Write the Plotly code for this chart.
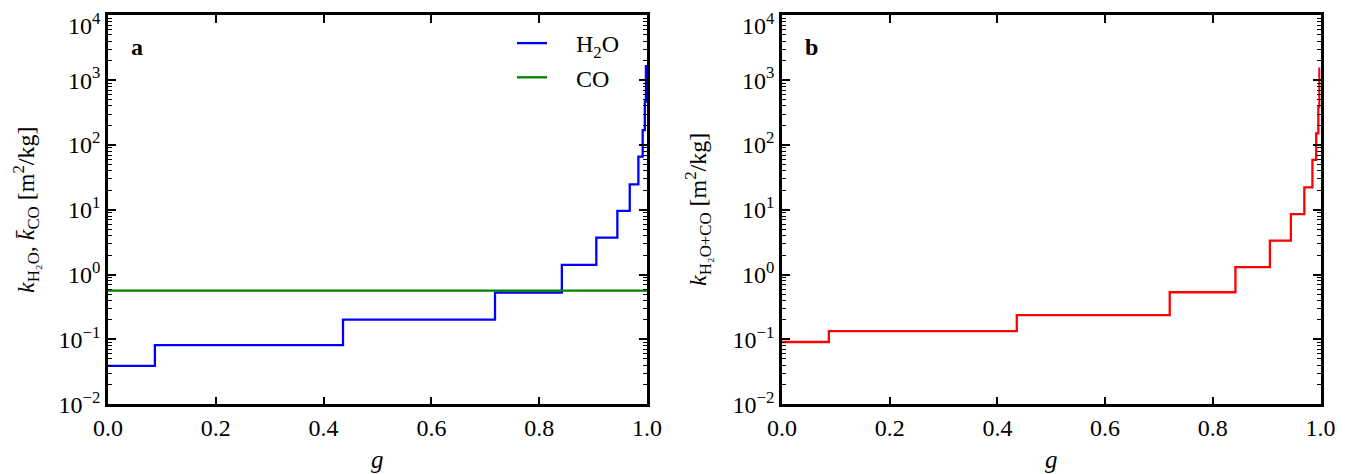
import plotly.graph_objects as go
from plotly.subplots import make_subplots

# ── data ─────────────────────────────────────────────────────────────────────
g_edges_h2o = [0.0, 0.087, 0.436, 0.718, 0.842, 0.906, 0.945, 0.968, 0.984,
               0.992, 0.996, 0.998, 1.0]
k_h2o = [0.039, 0.082, 0.202, 0.526, 1.41, 3.72, 9.6, 24.7, 65.9, 170.0,
         465.0, 1650.0]

g_co = [0.0, 1.0]
k_co = [0.565, 0.565]

g_edges_mix = [0.0, 0.087, 0.436, 0.720, 0.842, 0.906, 0.945, 0.970, 0.985,
               0.992, 0.996, 0.998, 1.0]
k_mix = [0.0914, 0.134, 0.238, 0.535, 1.31, 3.34, 8.6, 22.2, 58.7, 151.0,
         390.0, 1500.0]

y_major = [1e-2, 1e-1, 1e0, 1e1, 1e2, 1e3, 1e4]
# top label is drawn as an annotation so its superscript is not clipped
y_major_text = ["10<sup>−2</sup>", "10<sup>−1</sup>", "10<sup>0</sup>",
                "10<sup>1</sup>", "10<sup>2</sup>", "10<sup>3</sup>", ""]
y_top_text = "10<sup>4</sup>"
y_minor = [m * 10.0 ** e for e in range(-2, 4) for m in range(2, 10)]


def step_y(vals):
    # hv step: last level held to the final edge
    return vals + [vals[-1]]


# ── figure geometry ──────────────────────────────────────────────────────────
# the page body has an 8px margin, so the figure is 8px smaller than the
# window and page pixels are shifted by 8 before going to paper coords
W, H = 1357, 474
OFF = 8
FW, FH = W - OFF, H - OFF


def fx(p):
    return (p - OFF) / FW


def fy(p):
    return 1 - (p - OFF) / FH


FONT = "Liberation Serif"
BLUE, GREEN, RED = "#0000ff", "#008000", "#ff0000"
NBSP = "\u00a0"

fig = make_subplots(rows=1, cols=2)

fig.add_trace(go.Scatter(
    x=g_edges_h2o, y=step_y(k_h2o), mode="lines", line_shape="hv",
    name=NBSP * 4 + "H<sub>2</sub>O", legendgroup="h2o",
    line=dict(color=BLUE, width=2.3),
), row=1, col=1)

fig.add_trace(go.Scatter(
    x=g_co, y=k_co, mode="lines",
    name=NBSP * 4 + "CO", legendgroup="co",
    line=dict(color=GREEN, width=2.3),
), row=1, col=1)

fig.add_trace(go.Scatter(
    x=g_edges_mix, y=step_y(k_mix), mode="lines", line_shape="hv",
    name="H2O+CO", showlegend=False,
    line=dict(color=RED, width=2.3),
), row=1, col=2)

axis_common = dict(
    showline=True, linecolor="black", linewidth=2.5, mirror="allticks",
    ticks="inside", ticklen=8, tickwidth=1.5, tickcolor="black",
    showgrid=False, zeroline=False, automargin=False,
    ticklabeloverflow="allow",
    tickfont=dict(family=FONT, size=24, color="black"),
)

x_dom = [[fx(108), fx(647)], [fx(782), fx(1320.5)]]
y_dom = [fy(404.3), fy(15.3)]

for i in (1, 2):
    fig.update_xaxes(
        **axis_common, range=[0, 1], dtick=0.2, tickformat=".1f",
        domain=x_dom[i - 1], row=1, col=i,
    )
    fig.update_yaxes(
        **axis_common, type="log", range=[-2.0002, 4.0002],
        tickmode="array", tickvals=y_major, ticktext=y_major_text,
        minor=dict(ticks="inside", ticklen=4, tickwidth=1,
                   tickcolor="black", tickmode="array", tickvals=y_minor,
                   showgrid=False),
        domain=y_dom, row=1, col=i,
    )

# axis titles and panel letters (page pixel positions)
labels = [
    dict(x=fx(26), y=fy(210), textangle=-90, size=24,
         text="<i>k</i><sub>H₂O</sub>, <i>k̄</i><sub>CO</sub> [m<sup>2</sup>/kg]"),
    dict(x=fx(698), y=fy(210), textangle=-90, size=24,
         text="<i>k</i><sub>H₂O+CO</sub> [m<sup>2</sup>/kg]"),
    dict(x=fx(377), y=fy(459), size=25, text="<i>g</i>"),
    dict(x=fx(1051), y=fy(459), size=25, text="<i>g</i>"),
    dict(x=fx(137), y=fy(47), size=24, text="<b>a</b>"),
    dict(x=fx(811), y=fy(47), size=24, text="<b>b</b>"),
]
for lab in labels:
    size = lab.pop("size")
    fig.add_annotation(
        xref="paper", yref="paper", showarrow=False,
        xanchor="center", yanchor="middle",
        font=dict(family=FONT, size=size, color="black"),
        **lab,
    )

for xr in (102, 776):
    fig.add_annotation(
        xref="paper", yref="paper", showarrow=False,
        x=fx(xr), y=fy(8), xanchor="right", yanchor="top",
        text=y_top_text, borderpad=0,
        font=dict(family=FONT, size=24, color="black"),
    )

fig.update_layout(
    width=FW, height=FH,
    margin=dict(l=0, r=0, t=0, b=0),
    paper_bgcolor="white", plot_bgcolor="white",
    font=dict(family=FONT, color="black"),
    legend=dict(
        x=fx(512), y=fy(21), xanchor="left", yanchor="top",
        bgcolor="rgba(0,0,0,0)", borderwidth=0,
        font=dict(family=FONT, size=24, color="black"),
        tracegroupgap=0,
    ),
    showlegend=True,
)

fig.write_html("out.html")
